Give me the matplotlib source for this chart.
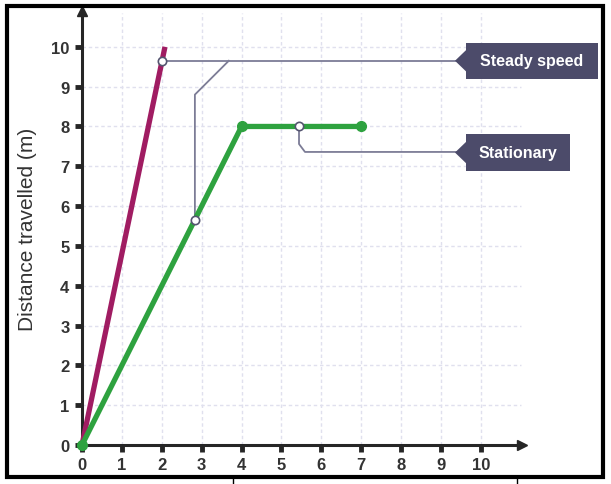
import numpy as np
import matplotlib
matplotlib.use("Agg")
import matplotlib.pyplot as plt
from matplotlib.patches import Rectangle, Polygon
from matplotlib.lines import Line2D

# data
fast_x = [0, 2.08]
fast_y = [0, 10]
slow_x = [0, 4, 7]
slow_y = [0, 8, 8]
ticks = list(range(0, 11))
ylabel = "Distance travelled (m)"
label_steady = "Steady speed"
label_still = "Stationary"

magenta = '#a01c62'
green = '#2ea23f'
anno = '#7c7c96'
boxcol = '#4c4b6a'
dark = '#262626'

fig = plt.figure(figsize=(6.11, 4.85), dpi=100)
ax = fig.add_axes([82/611, 39/485, 440/611, 434/485])
ax.set_xlim(0, 11.03)
ax.set_ylim(0, 10.9)

for s in ['top', 'right']:
    ax.spines[s].set_visible(False)
for s in ['left', 'bottom']:
    ax.spines[s].set_linewidth(2.2)
    ax.spines[s].set_color(dark)

# grid
for v in range(1, 11):
    ax.plot([v, v], [0, 10.85], color='#e0e0ee', lw=1, ls=(0, (2.5, 2)), zorder=0)
    ax.plot([0, 11.0], [v, v], color='#e0e0ee', lw=1, ls=(0, (2.5, 2)), zorder=0)

ax.set_xticks(ticks)
ax.set_yticks(ticks)
ax.tick_params(axis='both', length=5, width=3.5, color=dark, pad=4)
ax.set_xticklabels([str(t) for t in ticks], fontsize=12, fontweight='bold',
                   color='#333333', family='Liberation Sans')
ax.set_yticklabels([str(t) for t in ticks], fontsize=12, fontweight='bold',
                   color='#333333', family='Liberation Sans')
ax.set_ylabel(ylabel, fontsize=15, color='#333333', family='Liberation Sans', labelpad=10)

# arrow heads
ax.plot(11.03, 0, marker='>', ms=7, color=dark, clip_on=False, zorder=5)
ax.plot(0, 10.9, marker='^', ms=7, color=dark, clip_on=False, zorder=5)

# annotation leaders
ax.plot([2.0, 9.4], [9.65, 9.65], color=anno, lw=1.3, zorder=2, clip_on=False)
ax.plot([2.83, 2.83, 3.68], [5.65, 8.8, 9.65], color=anno, lw=1.3, zorder=2)
ax.plot([5.44, 5.44, 5.59, 9.4], [8, 7.56, 7.36, 7.36], color=anno, lw=1.3, zorder=2,
        clip_on=False)

# data lines
ax.plot(fast_x, fast_y, color=magenta, lw=3.8, solid_capstyle='butt', zorder=3, clip_on=False)
ax.plot(slow_x, slow_y, color=green, lw=3.8, zorder=3, clip_on=False,
        marker='o', ms=7, solid_capstyle='butt')

# open circles
ax.plot([2.0, 2.83, 5.44], [9.65, 5.65, 8], 'o', ms=6, mfc='white', mec='#555570',
        mew=1.2, zorder=4, clip_on=False)

# label boxes
def label_box(x0, x1, y0, y1, text):
    yc = (y0 + y1) / 2
    ax.add_patch(Rectangle((x0, y0), x1 - x0, y1 - y0, facecolor=boxcol,
                           edgecolor='none', clip_on=False, zorder=5))
    ax.add_patch(Polygon([[x0 - 0.27, yc], [x0 + 0.01, yc + 0.27], [x0 + 0.01, yc - 0.27]],
                         closed=True, facecolor=boxcol, edgecolor='none',
                         clip_on=False, zorder=5))
    ax.text((x0 + x1) / 2, yc, text, color='white', fontsize=11.5, fontweight='bold',
            family='Liberation Sans', ha='center', va='center', zorder=6)

label_box(9.62, 12.93, 9.2, 10.1, label_steady)
label_box(9.62, 12.23, 6.88, 7.81, label_still)

# outer frame
fig.add_artist(Rectangle((7/611, 1 - 478/485), 596/611, 471/485, transform=fig.transFigure,
                         fill=False, edgecolor='black', lw=3))
fig.add_artist(Line2D([233/611, 233/611], [0, 5/485], transform=fig.transFigure,
                      color='black', lw=1))
fig.add_artist(Line2D([517/611, 517/611], [0, 5/485], transform=fig.transFigure,
                      color='black', lw=1))

fig.savefig("out.png", dpi=100)
